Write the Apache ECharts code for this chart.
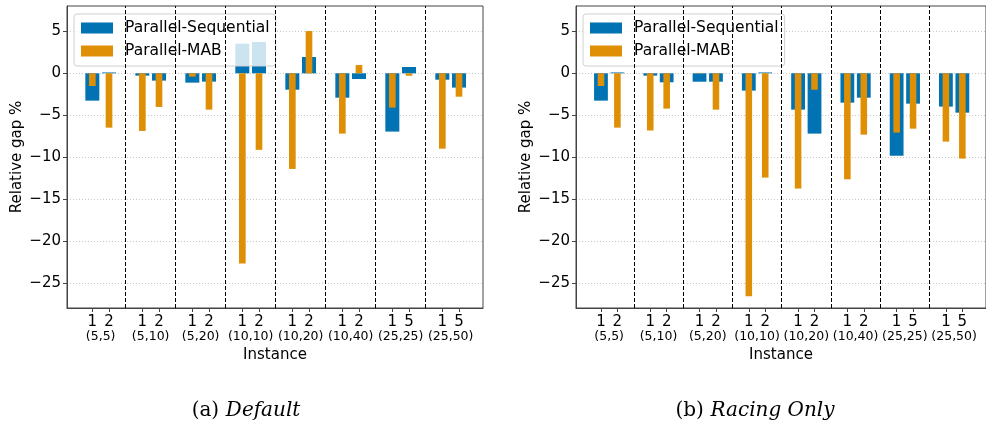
<!DOCTYPE html>
<html>
<head>
<meta charset="utf-8">
<script src="https://cdn.jsdelivr.net/npm/echarts@6/dist/echarts.min.js"></script>
<style>
  html, body { margin: 0; padding: 0; background: #fff; }
  #main { width: 986px; height: 428px; }
</style>
</head>
<body>
<div id="main"></div>
<script>
// instance groups (jobs, machines) and the two instance numbers in each
var groups = ['(5,5)', '(5,10)', '(5,20)', '(10,10)', '(10,20)', '(10,40)', '(25,25)', '(25,50)'];
var instances = ['1', '2', '1', '2', '1', '2', '1', '2', '1', '2', '1', '2', '1', '5', '1', '5'];

// (a) Default
var seqDefault = [-3.25, 0.1, -0.28, -0.87, -1.11, -0.99, 3.52, 3.72, -1.95, 1.94, -2.9, -0.68, -6.93, 0.75, -0.76, -1.7];
var mabDefault = [-1.51, -6.46, -6.85, -4.0, -0.4, -4.32, -22.6, -9.1, -11.37, 5.02, -7.17, 0.98, -4.08, -0.29, -8.96, -2.78];
// (b) Racing Only
var seqRacing = [-3.25, 0.1, -0.28, -1.07, -1.0, -1.0, -2.06, 0.1, -4.32, -7.17, -3.49, -2.9, -9.79, -3.61, -3.96, -4.68];
var mabRacing = [-1.51, -6.46, -6.8, -4.2, 0.05, -4.32, -26.5, -12.4, -13.7, -1.95, -12.6, -7.29, -7.05, -6.58, -8.12, -10.14];

var yTicks = [-25, -20, -15, -10, -5, 0, 5];

var BLUE = '#0173b2', ORANGE = '#de8f05';
var FONT = 'DejaVu Sans';

// x position of each instance: groups are 3 units wide, instances at +1 and +2
function xPos(j) { return 3 * Math.floor(j / 2) + 1 + (j % 2); }
var tickPos = instances.map(function (s, j) { return xPos(j); });
var groupPos = groups.map(function (g, i) { return 3 * i + 1.5; });
var sepPos = groups.slice(1).map(function (g, i) { return 3 * (i + 1); });

function toData(vals) {
    return vals.map(function (v, j) { return [xPos(j), v]; });
}

function barItem(w) {
    return function (params, api) {
        var x = api.value(0), v = api.value(1);
        var a = api.coord([x - w / 2, v]);
        var b = api.coord([x + w / 2, 0]);
        return {
            type: 'rect',
            shape: { x: a[0], y: Math.min(a[1], b[1]), width: b[0] - a[0], height: Math.abs(b[1] - a[1]) },
            style: api.style()
        };
    };
}

function minus(v) { return v < 0 ? '\u2212' + (-v) : String(v); }

var lefts = [67, 576];
var grids = [], xAxes = [], yAxes = [], legends = [], series = [];

[[seqDefault, mabDefault], [seqRacing, mabRacing]].forEach(function (pair, g) {
    grids.push({
        left: lefts[g], top: 6, width: 416, height: 302,
        show: true, borderColor: '#444', borderWidth: 1, backgroundColor: 'transparent'
    });
    xAxes.push({
        type: 'value', gridIndex: g, min: -0.52, max: 24.44, position: 'bottom',
        axisLine: { onZero: false, lineStyle: { color: '#444', width: 1 } },
        axisTick: { customValues: tickPos, length: 4, lineStyle: { color: '#444' } },
        axisLabel: {
            customValues: tickPos, margin: 7, fontSize: 15, fontFamily: FONT, color: '#000',
            formatter: function (v) { return instances[tickPos.indexOf(v)]; }
        },
        splitLine: { show: false }
    });
    xAxes.push({
        type: 'value', gridIndex: g, min: -0.52, max: 24.44, position: 'bottom',
        name: 'Instance', nameLocation: 'middle', nameGap: 37,
        nameTextStyle: { fontSize: 15, fontFamily: FONT, color: '#000' },
        axisLine: { show: false, onZero: false },
        axisTick: { show: false, customValues: groupPos },
        axisLabel: {
            customValues: groupPos, margin: 22, fontSize: 12.5, fontFamily: FONT, color: '#000',
            formatter: function (v) { return groups[groupPos.indexOf(v)]; }
        },
        splitLine: { show: false }
    });
    yAxes.push({
        type: 'value', gridIndex: g, min: -27.9, max: 8.0,
        name: 'Relative gap %', nameLocation: 'middle', nameGap: 42,
        nameTextStyle: { fontSize: 15, fontFamily: FONT, color: '#000' },
        axisLine: { show: true, onZero: false, lineStyle: { color: '#444', width: 1 } },
        axisTick: { show: true, customValues: yTicks, length: 4, lineStyle: { color: '#444' } },
        axisLabel: { customValues: yTicks, margin: 6, fontSize: 15, fontFamily: FONT, color: '#000', formatter: minus },
        splitLine: { show: true, lineStyle: { color: '#c8c8c8', type: [1, 2], width: 1 } }
    });
    legends.push({
        orient: 'vertical', left: lefts[g] + 7, top: 14,
        data: [{ name: 'Parallel-Sequential', icon: 'rect' }, { name: 'Parallel-MAB', icon: 'rect' }],
        itemWidth: 32, itemHeight: 11, itemGap: 7,
        padding: [6, 6, 7, 7],
        backgroundColor: 'rgba(255,255,255,0.8)', borderColor: '#d0d0d0', borderWidth: 1, borderRadius: 3,
        selectedMode: false,
        textStyle: { fontSize: 15.5, fontFamily: FONT, color: '#000', padding: [0, 0, 0, 7] }
    });
    series.push({
        type: 'custom', name: 'Parallel-Sequential', xAxisIndex: 2 * g, yAxisIndex: g,
        renderItem: barItem(0.84), encode: { x: 0, y: 1 },
        itemStyle: { color: BLUE }, data: toData(pair[0]), z: 2,
        markLine: {
            silent: true, symbol: 'none', label: { show: false },
            lineStyle: { color: '#000', type: [4, 2], width: 1 },
            data: sepPos.map(function (v) { return { xAxis: v }; })
        }
    });
    series.push({
        type: 'custom', name: 'Parallel-MAB', xAxisIndex: 2 * g, yAxisIndex: g,
        renderItem: barItem(0.4), encode: { x: 0, y: 1 },
        itemStyle: { color: ORANGE }, data: toData(pair[1]), z: 3
    });
});

var chart = echarts.init(document.getElementById('main'), null, { renderer: 'canvas' });
chart.setOption({
    animation: false,
    backgroundColor: '#fff',
    grid: grids,
    xAxis: xAxes,
    yAxis: yAxes,
    legend: legends,
    series: series,
    graphic: [
        {
            type: 'text', x: 246, y: 411,
            style: {
                text: '{n|(a)}  {i|Default}', textAlign: 'center', textVerticalAlign: 'middle',
                rich: {
                    n: { fontFamily: 'DejaVu Serif', fontSize: 20, fill: '#000' },
                    i: { fontFamily: 'DejaVu Serif', fontSize: 20, fontStyle: 'italic', fill: '#000' }
                }
            }
        },
        {
            type: 'text', x: 755, y: 411,
            style: {
                text: '{n|(b)}  {i|Racing Only}', textAlign: 'center', textVerticalAlign: 'middle',
                rich: {
                    n: { fontFamily: 'DejaVu Serif', fontSize: 20, fill: '#000' },
                    i: { fontFamily: 'DejaVu Serif', fontSize: 20, fontStyle: 'italic', fill: '#000' }
                }
            }
        }
    ]
});
</script>
</body>
</html>
